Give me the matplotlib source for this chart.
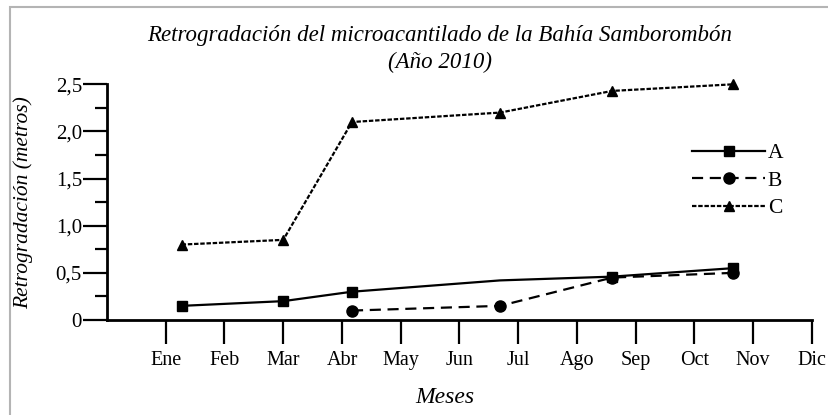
import numpy as np
import matplotlib
matplotlib.use('Agg')
import matplotlib.pyplot as plt
from matplotlib.patches import Rectangle
from matplotlib.ticker import MultipleLocator, FuncFormatter

plt.rcParams['font.family'] = ['Liberation Serif', 'DejaVu Serif']

# Month labels (tick positions 0..11)
meses = ['Ene', 'Feb', 'Mar', 'Abr', 'May', 'Jun', 'Jul', 'Ago', 'Sep', 'Oct', 'Nov', 'Dic']

# Survey dates expressed as fractional month index (0 = Ene)
fechas = [0.27, 2.0, 3.17, 5.69, 7.6, 9.66]

# Retrogradación (m) per profile
serie_a = [0.15, 0.20, 0.30, 0.42, 0.46, 0.55]
fechas_b = [3.17, 5.69, 7.6, 9.66]
serie_b = [0.10, 0.15, 0.45, 0.50]
serie_c = [0.80, 0.85, 2.10, 2.20, 2.43, 2.50]

fig = plt.figure(figsize=(8.29, 4.15), dpi=100)
ax = fig.add_axes([107 / 829, 95 / 415, 705 / 829, 235.7 / 415])

ax.plot(fechas, serie_a, color='black', lw=1.6, ls='-', marker='s', ms=7,
        markevery=[0, 1, 2, 4, 5], label='A', clip_on=False)
ax.plot(fechas_b, serie_b, color='black', lw=1.6, ls=(0, (5, 3)), marker='o', ms=8,
        label='B', clip_on=False)
ax.plot(fechas, serie_c, color='black', lw=1.6, ls=(0, (2, 0.8)), marker='^', ms=7,
        label='C', clip_on=False)

ax.set_xlim(-1, 11)
ax.set_ylim(0, 2.5)
ax.set_xticks(range(len(meses)))
ax.set_xticklabels(meses)
ax.yaxis.set_major_locator(MultipleLocator(0.5))
ax.yaxis.set_minor_locator(MultipleLocator(0.25))
ax.yaxis.set_major_formatter(FuncFormatter(
    lambda v, p: '0' if v == 0 else f'{v:.1f}'.replace('.', ',')))

for s in ['top', 'right']:
    ax.spines[s].set_visible(False)
for s in ['left', 'bottom']:
    ax.spines[s].set_linewidth(2.0)

ax.tick_params(axis='x', direction='out', length=17, width=1.6, pad=5, labelsize=14.5)
ax.tick_params(axis='y', which='major', direction='out', length=17, width=1.6, pad=1,
               labelsize=15)
ax.tick_params(axis='y', which='minor', direction='out', length=8.5, width=1.6)

ax.set_ylabel('Retrogradación (metros)', fontsize=15.5, style='italic')
ax.yaxis.set_label_coords(-0.105, 0.5)
ax.set_xlabel('Meses', fontsize=17, style='italic')
ax.xaxis.set_label_coords(0.479, -0.285)

fig.text(440 / 829, 1 - 35 / 415, 'Retrogradación del microacantilado de la Bahía Samborombón',
         ha='center', va='center', fontsize=16.5, style='italic')
fig.text(440 / 829, 1 - 62 / 415, '(Año 2010)',
         ha='center', va='center', fontsize=16.5, style='italic')

ax.legend(loc='upper left', bbox_to_anchor=(692 / 829, 1 - 143 / 415),
          bbox_transform=fig.transFigure, frameon=False, fontsize=15.5,
          handlelength=3.4, handletextpad=0.12, labelspacing=0.35,
          borderpad=0, borderaxespad=0)

# light grey frame: only top and left edges fall inside the image
fig.patches.append(Rectangle((10 / 829, -20 / 415), 900 / 829, 428 / 415,
                             transform=fig.transFigure, fill=False,
                             edgecolor='#b4b4b4', lw=1.5))

fig.savefig('out.png', dpi=100)
